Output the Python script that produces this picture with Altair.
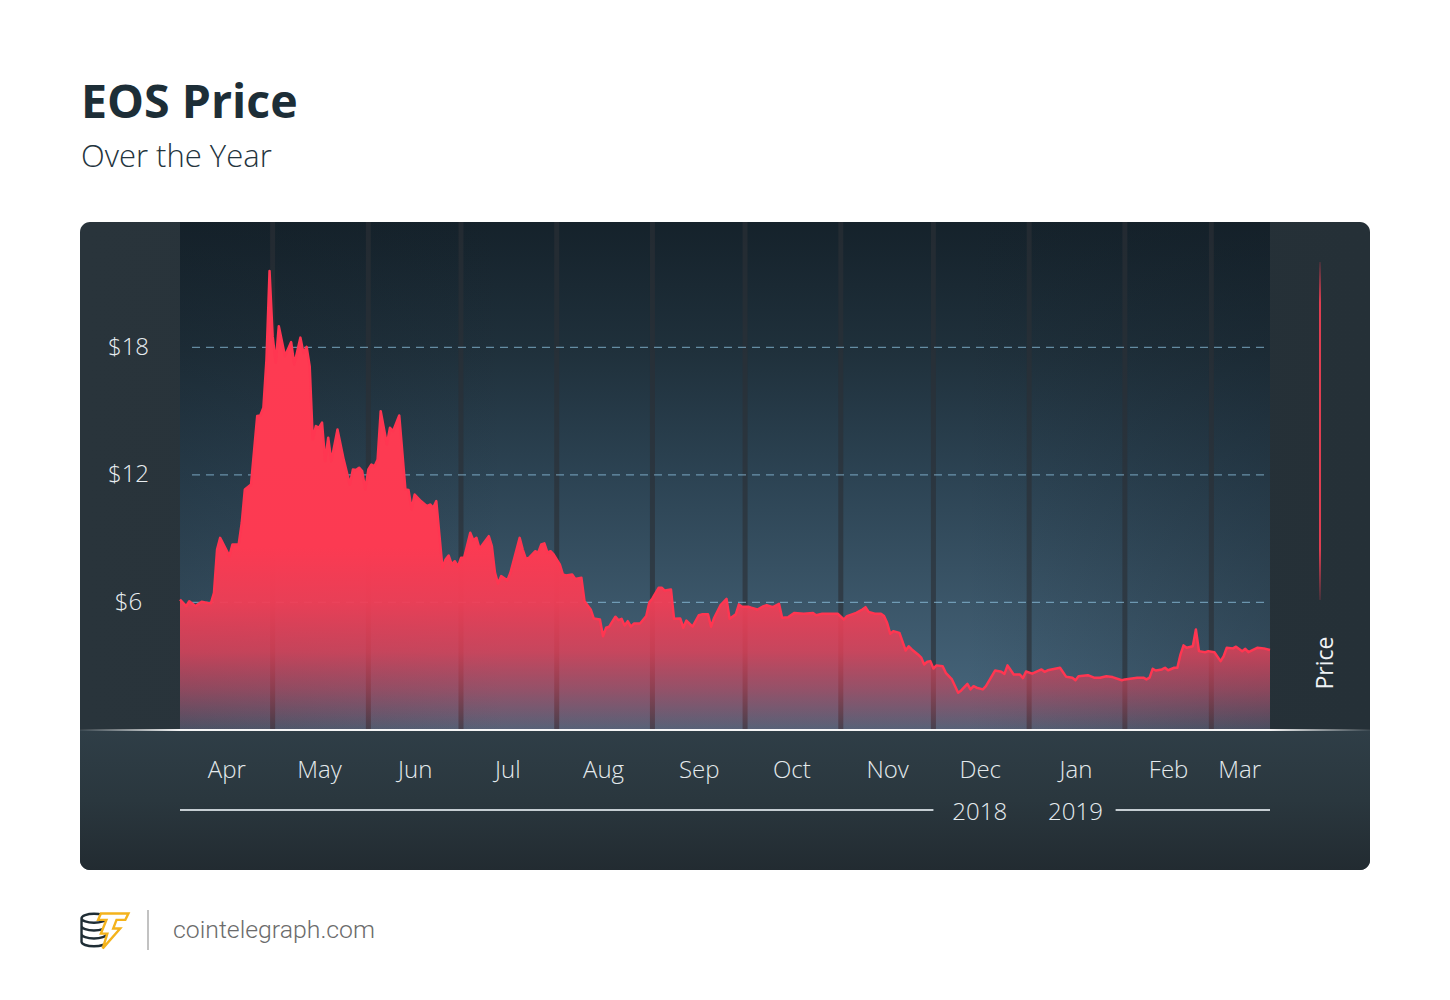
import altair as alt
import pandas as pd

# ---------------- data ----------------
dates = [
    "2018-04-01", "2018-04-03", "2018-04-04", "2018-04-06", "2018-04-08", "2018-04-10", "2018-04-11",
    "2018-04-12", "2018-04-13", "2018-04-14", "2018-04-17", "2018-04-18", "2018-04-20", "2018-04-21",
    "2018-04-22", "2018-04-24", "2018-04-26", "2018-04-27", "2018-04-28", "2018-04-29", "2018-04-30",
    "2018-05-01", "2018-05-02", "2018-05-03", "2018-05-05", "2018-05-07", "2018-05-08", "2018-05-10",
    "2018-05-11", "2018-05-12", "2018-05-13", "2018-05-14", "2018-05-15", "2018-05-16", "2018-05-17",
    "2018-05-18", "2018-05-19", "2018-05-20", "2018-05-22", "2018-05-24", "2018-05-26", "2018-05-27",
    "2018-05-28", "2018-05-29", "2018-05-30", "2018-05-31", "2018-06-01",
    "2018-06-02", "2018-06-03", "2018-06-04", "2018-06-05", "2018-06-07", "2018-06-08", "2018-06-09",
    "2018-06-11", "2018-06-13", "2018-06-14", "2018-06-15", "2018-06-16", "2018-06-18", "2018-06-20",
    "2018-06-21", "2018-06-22", "2018-06-23", "2018-06-25", "2018-06-26", "2018-06-27", "2018-06-28",
    "2018-06-29", "2018-06-30",
    "2018-07-01", "2018-07-02", "2018-07-04", "2018-07-05", "2018-07-06", "2018-07-07", "2018-07-10",
    "2018-07-11", "2018-07-12", "2018-07-13", "2018-07-14", "2018-07-16", "2018-07-17", "2018-07-20",
    "2018-07-21", "2018-07-22", "2018-07-23", "2018-07-25", "2018-07-26", "2018-07-27", "2018-07-28",
    "2018-07-29", "2018-07-30", "2018-07-31",
    "2018-08-02", "2018-08-03", "2018-08-04", "2018-08-06", "2018-08-07", "2018-08-09", "2018-08-10",
    "2018-08-12", "2018-08-13", "2018-08-15", "2018-08-16", "2018-08-17", "2018-08-18", "2018-08-20",
    "2018-08-21", "2018-08-22", "2018-08-23", "2018-08-24", "2018-08-25", "2018-08-26", "2018-08-28",
    "2018-08-30", "2018-08-31",
    "2018-09-01", "2018-09-03", "2018-09-04", "2018-09-05", "2018-09-07", "2018-09-08", "2018-09-10",
    "2018-09-11", "2018-09-12", "2018-09-14", "2018-09-16", "2018-09-17", "2018-09-19", "2018-09-20",
    "2018-09-21", "2018-09-23", "2018-09-25", "2018-09-26", "2018-09-28", "2018-09-29", "2018-09-30",
    "2018-10-02", "2018-10-03", "2018-10-05", "2018-10-07", "2018-10-08", "2018-10-10", "2018-10-12",
    "2018-10-13", "2018-10-15", "2018-10-17", "2018-10-20", "2018-10-23", "2018-10-24", "2018-10-26",
    "2018-10-31",
    "2018-11-02", "2018-11-03", "2018-11-06", "2018-11-08", "2018-11-09", "2018-11-10", "2018-11-12",
    "2018-11-14", "2018-11-15", "2018-11-16", "2018-11-17", "2018-11-18", "2018-11-20", "2018-11-22",
    "2018-11-23", "2018-11-24", "2018-11-26", "2018-11-27", "2018-11-28", "2018-11-29", "2018-11-30",
    "2018-12-01", "2018-12-02", "2018-12-04", "2018-12-05", "2018-12-07", "2018-12-09", "2018-12-10",
    "2018-12-12", "2018-12-13", "2018-12-14", "2018-12-15", "2018-12-17", "2018-12-18", "2018-12-21",
    "2018-12-23", "2018-12-24", "2018-12-25", "2018-12-27", "2018-12-29", "2018-12-30", "2018-12-31",
    "2019-01-02", "2019-01-05", "2019-01-06", "2019-01-07", "2019-01-11", "2019-01-13", "2019-01-15",
    "2019-01-16", "2019-01-17", "2019-01-20", "2019-01-22", "2019-01-24", "2019-01-26", "2019-01-28",
    "2019-01-31",
    "2019-02-01", "2019-02-05", "2019-02-07", "2019-02-08", "2019-02-09", "2019-02-10", "2019-02-11",
    "2019-02-13", "2019-02-14", "2019-02-15", "2019-02-17", "2019-02-18", "2019-02-19", "2019-02-20",
    "2019-02-21", "2019-02-23", "2019-02-24", "2019-02-25", "2019-02-27", "2019-02-28",
    "2019-03-02", "2019-03-04", "2019-03-05", "2019-03-06", "2019-03-08", "2019-03-09", "2019-03-11",
    "2019-03-12", "2019-03-13", "2019-03-16", "2019-03-18", "2019-03-20",
]
prices = [
    6.14, 5.83, 6.06, 5.83, 6.03, 5.98, 5.96,
    6.45, 8.49, 9.04, 8.18, 8.73, 8.73, 9.75,
    11.32, 11.55, 14.77, 14.80, 15.16, 17.43, 21.59,
    18.53, 17.28, 19.00, 17.60, 18.25, 17.20, 18.46,
    17.72, 18.03, 17.12, 13.67, 14.30, 14.22, 14.46,
    12.65, 13.75, 12.65, 14.14, 12.73, 11.55, 12.26,
    12.23, 12.34, 12.18, 11.32, 12.26,
    12.49, 12.41, 12.73, 15.00, 13.44, 14.22, 14.06,
    14.80, 11.32, 11.29, 10.38, 11.08, 10.77, 10.53,
    10.61, 10.46, 10.77, 7.63, 8.02, 8.21, 7.79,
    7.94, 7.69,
    8.10, 8.10, 9.28, 8.93, 9.04, 8.53, 9.12,
    8.65, 7.40, 6.89, 7.24, 7.04, 7.40, 9.04,
    8.49, 8.06, 8.10, 8.41, 8.34, 8.73, 8.78,
    8.34, 8.41, 8.26,
    7.79, 7.32, 7.27, 7.32, 7.11, 7.16, 6.06,
    5.67, 5.25, 5.20, 4.41, 4.81, 4.86, 5.33,
    5.17, 5.23, 4.92, 5.12, 4.86, 5.01, 5.01,
    5.36, 6.01,
    6.19, 6.69, 6.69, 6.56, 6.61, 5.23, 5.25,
    4.81, 5.15, 4.86, 5.40, 5.44, 5.44, 4.86,
    5.28, 5.86, 6.17, 5.23, 5.44, 5.91, 5.80,
    5.80, 5.75, 5.67, 5.83, 5.87, 5.78, 5.94,
    5.28, 5.31, 5.51, 5.47, 5.51, 5.40, 5.47,
    5.47,
    5.20, 5.36, 5.51, 5.67, 5.78, 5.56, 5.47,
    5.47, 5.36, 5.04, 4.53, 4.65, 4.57, 3.74,
    3.94, 3.79, 3.55, 3.42, 3.08, 3.21, 3.24,
    2.89, 3.04, 3.00, 2.69, 2.38, 1.75, 1.86,
    2.17, 1.91, 2.06, 1.99, 1.91, 2.06, 2.80,
    2.74, 2.64, 3.04, 2.61, 2.61, 2.44, 2.75,
    2.65, 2.85, 2.74, 2.81, 2.93, 2.50, 2.46,
    2.34, 2.53, 2.58, 2.46, 2.46, 2.53, 2.49,
    2.34,
    2.38, 2.46, 2.46, 2.38, 2.46, 2.88, 2.80,
    2.85, 2.93, 2.81, 2.93, 2.93, 3.55, 3.98,
    3.87, 3.94, 4.73, 3.71, 3.66, 3.71,
    3.66, 3.24, 3.47, 3.87, 3.84, 3.92, 3.71,
    3.82, 3.66, 3.87, 3.84, 3.76,
]

month_starts = ["2018-05-01", "2018-06-01", "2018-07-01", "2018-08-01", "2018-09-01", "2018-10-01",
                "2018-11-01", "2018-12-01", "2019-01-01", "2019-02-01", "2019-03-01"]
month_label_dates = ["2018-04-16", "2018-05-16", "2018-06-16", "2018-07-16", "2018-08-16", "2018-09-16",
                     "2018-10-16", "2018-11-16", "2018-12-16", "2019-01-16", "2019-02-15", "2019-03-10"]
price_ticks = [6, 12, 18]
year_labels = ["2018", "2019"]
year_label_dates = ["2018-12-16", "2019-01-16"]
year_line_starts = ["2018-04-01", "2019-01-29"]
year_line_ends = ["2018-12-01", "2019-03-20"]
domain_start = "2018-04-01"
domain_end = "2019-03-20"

title_text = "EOS Price"
subtitle_text = "Over the Year"
legend_text = "Price"
footer_text = "cointelegraph.com"

# ---------------- tables ----------------
df = pd.DataFrame({"date": pd.to_datetime(dates), "price": prices})
months_df = pd.DataFrame({"date": pd.to_datetime(month_starts)})
grid_df = pd.DataFrame({"price": price_ticks})
years_df = pd.DataFrame({"date": pd.to_datetime(year_label_dates), "label": year_labels})
ylines_df = pd.DataFrame({"date": pd.to_datetime(year_line_starts), "end": pd.to_datetime(year_line_ends)})
one = pd.DataFrame({"k": [0]})


def dt(s):
    y, m, d = (int(p) for p in s.split("-"))
    return alt.DateTime(year=y, month=m, date=d)


W, H = 1090, 508
FONT = "Open Sans"

x_scale = alt.Scale(domain=[dt(domain_start), dt(domain_end)], nice=False)
y_scale = alt.Scale(domain=[0, 23.9], nice=False, zero=True)

x_axis = alt.Axis(
    values=[dt(s) for s in month_label_dates], format="%b", title=None,
    domain=False, ticks=False, tickSize=0, grid=False, zindex=2,
    labelFont=FONT, labelFontSize=24, labelFontWeight=300, labelColor="#e4eaed",
    labelBaseline="alphabetic", labelPadding=47, labelAlign="center",
    labelFlush=False, labelOverlap=False,
)
y_axis = alt.Axis(
    values=price_ticks, labelExpr="'$' + datum.value", title=None,
    domain=False, ticks=False, tickSize=0, grid=False, zindex=2,
    labelFont=FONT, labelFontSize=24, labelFontWeight=300, labelColor="#e8edf0",
    labelAlign="center", labelBaseline="middle", labelPadding=52,
)

X = alt.X("date:T", scale=x_scale, axis=x_axis)
Y = alt.Y("price:Q", scale=y_scale, axis=y_axis)


def lin(stops, horizontal=False):
    return alt.LinearGradient(
        gradient="linear",
        stops=[alt.GradientStop(offset=o, color=c) for o, c in stops],
        x1=0, y1=0, x2=1 if horizontal else 0, y2=0 if horizontal else 1,
    )


def box(x0, x1, y0, y1):
    return dict(x=alt.value(x0), x2=alt.value(x1), y=alt.value(y0), y2=alt.value(y1))


# ---------------- card & backgrounds ----------------
card = alt.Chart(one).mark_rect(
    cornerRadius=10,
    fill=lin([(0, "#29343b"), (1, "#253037")], horizontal=True),
).encode(**box(-100, 1190, 0, 648))

lower = alt.Chart(one).mark_rect(
    cornerRadiusBottomLeft=10, cornerRadiusBottomRight=10,
    fill=lin([(0, "#2f3e47"), (0.5, "#2a373e"), (1, "#222b31")]),
).encode(**box(-100, 1190, H, 648))

plot_bg = alt.Chart(one).mark_rect(
    fill=lin([(0, "#15222b"), (0.25, "#1f303b"), (0.5, "#2c4353"),
              (0.75, "#3b5669"), (0.95, "#45647a"), (1, "#46667b")]),
).encode(**box(0, W, 0, H))

plot_shade = alt.Chart(one).mark_rect(
    fill=lin([(0, "rgba(18,28,36,0.25)"), (0.3, "rgba(18,28,36,0)"),
              (0.72, "rgba(18,28,36,0)"), (1, "rgba(18,28,36,0.3)")], horizontal=True),
).encode(**box(0, W, 0, H))

# ---------------- guides inside the plot ----------------
month_lines = alt.Chart(months_df).mark_rule(
    color="#2b3035", opacity=0.65, strokeWidth=5
).encode(x=X, y=alt.value(0), y2=alt.value(H))

grid = alt.Chart(grid_df).mark_rule(
    color="#95cbea", opacity=0.6, strokeWidth=1.3, strokeDash=[8, 6]
).encode(y=Y, x=alt.value(12), x2=alt.value(W - 6))

# ---------------- the series ----------------
area = alt.Chart(df).mark_area(
    interpolate="linear",
    fill=lin([(0, "rgba(255,58,82,1)"), (0.6, "rgba(252,58,82,1)"), (0.72, "rgba(242,62,86,0.95)"),
              (0.83, "rgba(236,64,88,0.78)"), (0.91, "rgba(230,65,90,0.5)"), (1, "rgba(225,65,90,0.1)")]),
).encode(x=X, y=Y)

line = alt.Chart(df).mark_line(
    interpolate="linear", stroke="#ff3651", strokeWidth=2.5, strokeJoin="round"
).encode(x=X, y=Y)

baseline = alt.Chart(one).mark_rect(
    fill=lin([(0, "rgba(255,255,255,0.05)"), (0.0775, "rgba(255,255,255,0.95)"),
              (0.922, "rgba(255,255,255,0.95)"), (1, "rgba(255,255,255,0.05)")], horizontal=True),
).encode(**box(-100, 1190, H - 1, H + 1))

# ---------------- year row ----------------
year_lines = alt.Chart(ylines_df).mark_rule(color="#c5cdd2", strokeWidth=2).encode(
    x=X, x2="end:T", y=alt.value(588)
)
year_text = alt.Chart(years_df).mark_text(
    font=FONT, fontSize=24, fontWeight=300, color="#e6ecef", align="center", baseline="alphabetic"
).encode(x=X, y=alt.value(598), text="label:N")

# ---------------- legend ----------------
legend_line = alt.Chart(one).mark_rect(
    fill=lin([(0, "rgba(230,60,80,0.15)"), (0.12, "rgba(232,62,82,0.95)"),
              (0.85, "rgba(232,62,82,0.95)"), (1, "rgba(230,60,80,0.15)")]),
).encode(**box(1139, 1141, 40, 378))
legend_label = alt.Chart(one).mark_text(
    text=legend_text, font=FONT, fontSize=23, color="#f0f3f5", angle=270,
    align="center", baseline="alphabetic",
).encode(x=alt.value(1153), y=alt.value(441))

# ---------------- titles ----------------
title = alt.Chart(one).mark_text(
    text=title_text, font=FONT, fontSize=46.5, fontWeight=700, color="#1d2e37",
    align="left", baseline="alphabetic",
).encode(x=alt.value(-99), y=alt.value(-104))
subtitle = alt.Chart(one).mark_text(
    text=subtitle_text, font=FONT, fontSize=31, fontWeight=300, color="#24343d",
    align="left", baseline="alphabetic",
).encode(x=alt.value(-99), y=alt.value(-55))

# ---------------- footer ----------------
coins_path = ("M-0.72,-0.62 A0.72,0.26 0 1,0 0.72,-0.62 A0.72,0.26 0 1,0 -0.72,-0.62 "
              "M-0.72,-0.62 L-0.72,0.74 A0.72,0.26 0 0,0 0.72,0.74 L0.72,-0.62 "
              "M-0.72,-0.17 A0.72,0.26 0 0,0 0.72,-0.17 "
              "M-0.72,0.29 A0.72,0.26 0 0,0 0.72,0.29")
bolt_path = ("M-0.55,-0.9 L0.95,-0.9 L0.78,-0.55 L0.3,-0.55 L0.12,-0.08 L0.5,-0.08 "
             "L-0.45,1 L-0.2,0.2 L-0.55,0.2 L-0.25,-0.55 L-0.7,-0.55 Z")
coins = alt.Chart(one).mark_point(
    shape=coins_path, filled=False, stroke="#1f2d35", strokeWidth=2.4, size=1200, opacity=1
).encode(x=alt.value(-86), y=alt.value(707))
bolt = alt.Chart(one).mark_point(
    shape=bolt_path, filled=True, fill="#ffffff", stroke="#f4b31c", strokeWidth=2.4, size=1350, opacity=1
).encode(x=alt.value(-69), y=alt.value(708))
divider = alt.Chart(one).mark_rule(color="#c2c2c2", strokeWidth=2).encode(
    x=alt.value(-32), y=alt.value(688), y2=alt.value(728)
)
footer = alt.Chart(one).mark_text(
    text=footer_text, font="Roboto", fontSize=24.8, fontWeight=300, color="#6b6b6b",
    align="left", baseline="alphabetic",
).encode(x=alt.value(-7), y=alt.value(716))

chart = alt.layer(
    card, lower, plot_bg, plot_shade, month_lines, grid, area, line, baseline,
    year_lines, year_text, legend_line, legend_label,
    title, subtitle, coins, bolt, divider, footer,
).properties(
    width=W, height=H,
    padding={"left": 172, "top": 214, "right": 170, "bottom": 262},
    autosize=alt.AutoSizeParams(type="none"),
    background="#ffffff",
).configure_view(stroke=None)

chart.save("out.html", embed_options={"renderer": "svg", "actions": False})
